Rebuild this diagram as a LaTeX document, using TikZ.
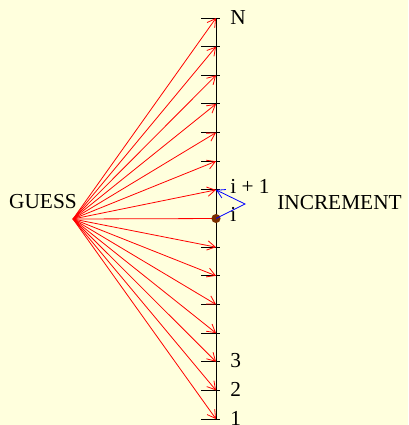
\documentclass[tikz,border=0pt]{standalone}
\usepackage{fontspec}
\setmainfont{Liberation Serif}
\usetikzlibrary{arrows.meta}
\definecolor{paper}{RGB}{255,255,221}
\definecolor{dotbrown}{RGB}{122,46,0}
\begin{document}
\begin{tikzpicture}[x=0.75pt, y=-0.75pt,
  every node/.style={font=\fontsize{16}{18}\selectfont, inner sep=0pt},
  tick/.style={line width=0.7pt},
  guessarrow/.style={-{Straight Barb[length=6pt,width=7pt]}, red, line width=0.6pt},
  incarrow/.style={-{Straight Barb[length=6pt,width=7pt]}, blue, line width=0.6pt}
]
\fill[paper] (0,0) rectangle (408,425);
\useasboundingbox (0,0) rectangle (408,425);

% axis with its ticks, t1 at the bottom
\coordinate (g) at (73,219);
\foreach \k in {1,...,15}
  \coordinate (t\k) at (216,{419-(\k-1)*28.64});
\draw[tick] (t1) -- (t15);
\foreach \k in {1,...,15}
  \draw[tick] ([xshift=-11pt]t\k) -- ([xshift=3pt]t\k);

% guesses
\foreach \k in {1,...,7,9,10,...,15}
  \draw[guessarrow] (g) -- (t\k);
\draw[red, line width=0.6pt] (g) -- (t8);
\fill[dotbrown] (t8) circle (3.4pt);

% increment
\coordinate (bend) at (245,204);
\draw[incarrow] (t8) -- (bend) -- (t9);

\node[anchor=base east] (guess) at (77,208) {GUESS};
\node[anchor=base west] (increment) at (277,209) {INCREMENT};
\node[anchor=base west] (lN) at ([xshift=10.5pt,yshift=-4.6pt]t15) {N};
\node[anchor=base west] (lip) at ([xshift=10.5pt,yshift=-2.4pt]t9) {i + 1};
\node[anchor=base west] (li) at ([xshift=10.5pt,yshift=-2.4pt]t8) {i};
\node[anchor=base west] (l3) at ([xshift=10.5pt,yshift=-4.6pt]t3) {3};
\node[anchor=base west] (l2) at ([xshift=10.5pt,yshift=-4.6pt]t2) {2};
\node[anchor=base west] (l1) at ([xshift=10.5pt,yshift=-4.6pt]t1) {1};
\end{tikzpicture}
\end{document}
